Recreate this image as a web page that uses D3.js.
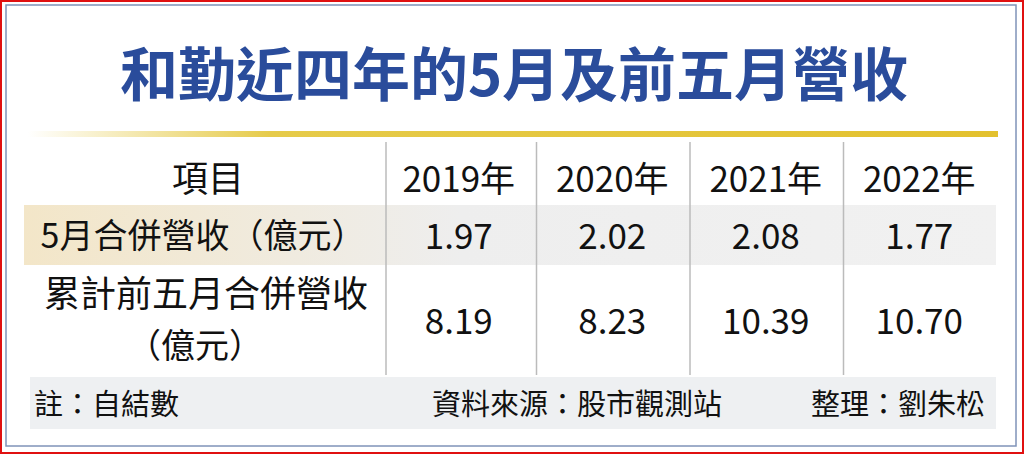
<!DOCTYPE html>
<html><head><meta charset="utf-8">
<script src="https://cdn.jsdelivr.net/npm/d3@7"></script>
<style>body{margin:0;background:#fff}</style>
</head><body><svg></svg>
<script>
const title = '和勤近四年的5月及前五月營收'
const years = ['2019年', '2020年', '2021年', '2022年']
const rowLabels = [['5月合併營收（億元）'], ['累計前五月合併營收', '（億元）']]
const mayRevenue = [1.97, 2.02, 2.08, 1.77]
const ytdRevenue = [8.19, 8.23, 10.39, 10.70]
const note = '註：自結數'
const source = '資料來源：股市觀測站'
const editor = '整理：劉朱松'

const W = 1024, H = 454
const font = '"Noto Sans CJK TC", "Liberation Sans", sans-serif'
const svg = d3.select('svg').attr('width', W).attr('height', H)

const defs = svg.append('defs')
const g1 = defs.append('linearGradient').attr('id', 'gold')
g1.append('stop').attr('offset', '0').attr('stop-color', '#fff')
g1.append('stop').attr('offset', '0.25').attr('stop-color', '#e6cb4a')
g1.append('stop').attr('offset', '1').attr('stop-color', '#e3c12e')
const g2 = defs.append('linearGradient').attr('id', 'band')
g2.append('stop').attr('offset', '0').attr('stop-color', '#f3e6c8')
g2.append('stop').attr('offset', '0.45').attr('stop-color', '#eeeeee')
g2.append('stop').attr('offset', '1').attr('stop-color', '#f1f1f1')

// frame
svg.append('rect').attr('x', 1).attr('y', 1).attr('width', W - 2).attr('height', H - 2)
  .attr('fill', 'none').attr('stroke', '#e01010').attr('stroke-width', 2)
svg.append('rect').attr('x', 6).attr('y', 5).attr('width', 1010).attr('height', 441)
  .attr('fill', 'none').attr('stroke', '#7f93b8').attr('stroke-width', 1.5)

svg.append('text').text(title).attr('x', 514).attr('y', 96)
  .attr('text-anchor', 'middle').attr('font-family', font).attr('font-weight', 'bold')
  .attr('font-size', 58).attr('fill', '#2a4c9b')
svg.append('rect').attr('x', 28).attr('y', 131).attr('width', 970).attr('height', 6).attr('fill', 'url(#gold)')

// bands
svg.append('rect').attr('x', 24).attr('y', 205).attr('width', 972).attr('height', 60).attr('fill', 'url(#band)')
svg.append('rect').attr('x', 30).attr('y', 377).attr('width', 966).attr('height', 52).attr('fill', '#eef0f2')

const x = d3.scaleBand().domain(years).range([386, 1000])
const seps = [386, ...years.slice(1).map(y => x(y) - 3)]
svg.selectAll('.sep').data(seps).join('line')
  .attr('x1', d => d).attr('x2', d => d).attr('y1', 142).attr('y2', 375)
  .attr('stroke', '#bbb').attr('stroke-width', 1.5)

const txt = (s, x0, y0, size, anchor) => svg.append('text').text(s).attr('x', x0).attr('y', y0)
  .attr('font-family', font).attr('font-size', size).attr('fill', '#111').attr('text-anchor', anchor || 'middle')

txt('項目', 208, 192, 36)
svg.selectAll('.yr').data(years).join('text').text(d => d)
  .attr('x', d => x(d) + x.bandwidth() / 2 - 4).attr('y', 192)
  .attr('text-anchor', 'middle').attr('font-family', font).attr('font-size', 35).attr('fill', '#111')

txt(rowLabels[0][0], 203, 248, 34)
txt(rowLabels[1][0], 206, 307, 36)
txt(rowLabels[1][1], 195, 358, 34)

const fmt = d3.format('.2f')
;[[mayRevenue, 249], [ytdRevenue, 334]].forEach(([vals, yy]) => {
  svg.append('g').selectAll('text').data(vals).join('text').text(d => fmt(d))
    .attr('x', (d, i) => x(years[i]) + x.bandwidth() / 2 - 4).attr('y', yy)
    .attr('text-anchor', 'middle').attr('font-family', font).attr('font-size', 35).attr('fill', '#111')
})

txt(note, 34, 415, 29, 'start')
txt(source, 432, 415, 29, 'start')
txt(editor, 985, 415, 29, 'end')
</script></body></html>
